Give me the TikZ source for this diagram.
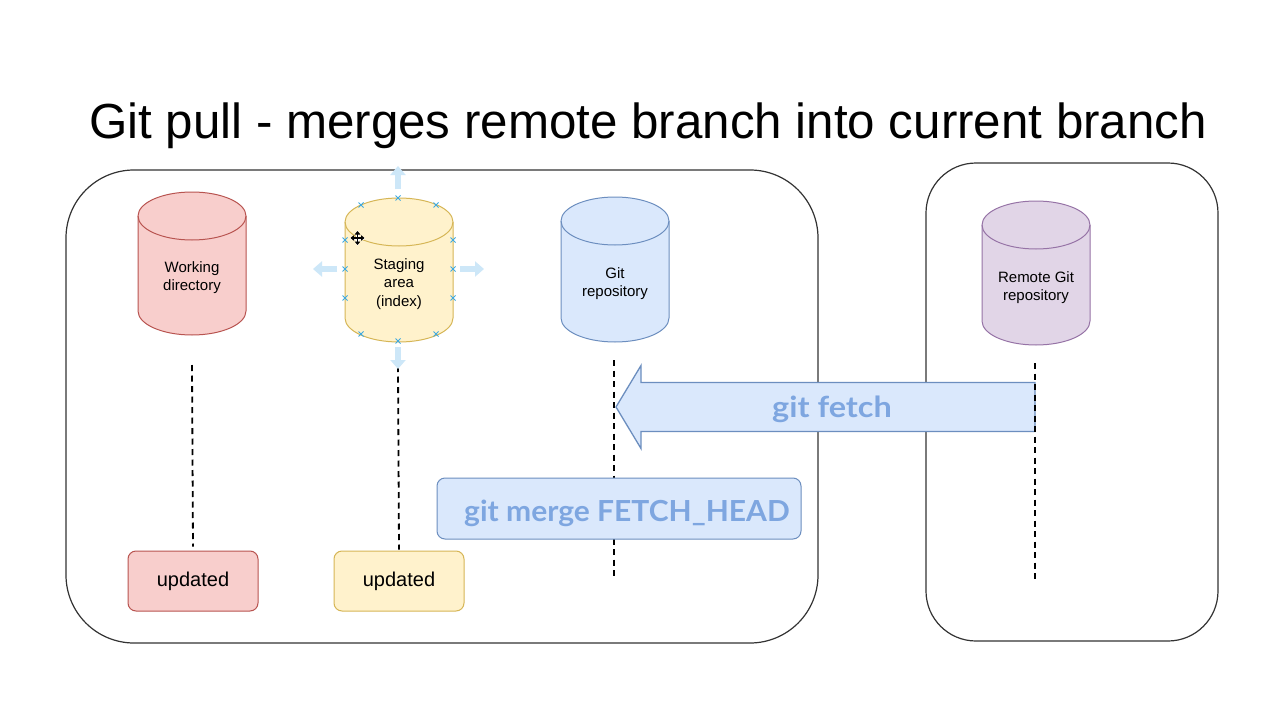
\documentclass[tikz,border=0pt]{standalone}
\usepackage{graphicx}
\usepackage{fontspec}
\setmainfont{Liberation Sans}
\newfontfamily\comicfont{Lato}
\usetikzlibrary{arrows.meta}
\definecolor{redfill}{HTML}{F8CECC}\definecolor{redline}{HTML}{B85450}
\definecolor{yelfill}{HTML}{FFF2CC}\definecolor{yelline}{HTML}{D6B656}
\definecolor{bluefill}{HTML}{DAE8FC}\definecolor{blueline}{HTML}{6C8EBF}
\definecolor{purfill}{HTML}{E1D5E7}\definecolor{purline}{HTML}{9673A6}
\definecolor{cmdtext}{HTML}{7EA6E0}
\definecolor{handlearrow}{HTML}{CDE7F8}
\definecolor{handlex}{HTML}{3FA9E0}
\definecolor{frame}{HTML}{333333}
\newcommand{\cylshape}[5]{%
  \draw[fill=#4, draw=#5, line width=1pt] ({#1-54},{#2+24}) -- ({#1-54},{#3-24})
    arc[start angle=180, end angle=360, x radius=54pt, y radius=24pt] -- ({#1+54},{#2+24})
    arc[start angle=0, end angle=180, x radius=54pt, y radius=24pt] -- cycle;
  \draw[draw=#5, line width=1pt] ({#1-54},{#2+24})
    arc[start angle=180, end angle=360, x radius=54pt, y radius=24pt];
}
\tikzset{
  bigframe/.style={draw=frame, line width=1.2pt, fill=white},
  cyltext/.style={font=\fontsize{15}{18.5}\selectfont, align=center, text=black},
  updbox/.style={rounded corners=8pt, minimum width=130pt, minimum height=60pt, line width=1pt, font=\fontsize{20}{24}\selectfont},
  dashline/.style={line width=1.8pt, dash pattern=on 6pt off 4.5pt, black},
  cmdfont/.style={font=\comicfont\bfseries\fontsize{29}{34}\selectfont, text=cmdtext},
  fetcharrow/.style={fill=bluefill, draw=blueline, line width=1.3pt, line join=miter},
  handlearr/.style={draw=handlearrow, line width=6pt, -{Triangle[width=15pt,length=9pt]}},
  handlemark/.style={draw=handlex, line width=1pt},
}
\begin{document}
\begin{tikzpicture}[x=1pt,y=-1pt]
\useasboundingbox (0,0) rectangle (1283,720);
\fill[white] (0,0) rectangle (1283,720);

% title
\node[anchor=base, font=\fontsize{49.3}{58}\selectfont] (title) at (648,138) {Git pull - merges remote branch into current branch};

% frames
\node[bigframe, rounded corners=68pt, minimum width=752pt, minimum height=473pt] (localframe) at (442,406.5) {};
\node[bigframe, rounded corners=50pt, minimum width=292pt, minimum height=478pt] (remoteframe) at (1072,402) {};

% cylinders
\cylshape{192}{192}{335}{redfill}{redline}
\cylshape{399}{198}{342}{yelfill}{yelline}
\cylshape{615}{197}{342}{bluefill}{blueline}
\cylshape{1036}{201}{345}{purfill}{purline}
\node[cyltext] (wd) at (192,277.5) {Working\\directory};
\node[cyltext] (stage) at (399,284) {Staging\\area\\(index)};
\node[cyltext] (repo) at (615,283.5) {Git\\repository};
\node[cyltext] (remote) at (1036,287.5) {Remote Git\\repository};

% lifeline start points
\coordinate (wdl) at (192,365);
\coordinate (stl) at (398,366);
\coordinate (repol) at (614,360);
\coordinate (repoend) at (614,578);
\coordinate (reml) at (1035,363);
\coordinate (remend) at (1035,580);

% fetch arrow
\coordinate (fetchend) at (616,407);
\coordinate (fetchstart) at (1035,407);
\draw[fetcharrow] (fetchend) -- ++(25,-41.5) -- ++(0,17) -- ++(394,0) -- ++(0,49) -- ++(-394,0) -- ++(0,17) -- cycle;
\node[cmdfont] (fetchlabel) at (832,409) {\scalebox{1.12}[1]{git fetch}};

% updated boxes
\node[updbox, fill=redfill, draw=redline] (wdup) at (193,581) {\raisebox{-1.5pt}{updated}};
\node[updbox, fill=yelfill, draw=yelline] (stup) at (399,581) {\raisebox{-1.5pt}{updated}};

% dashed lifelines
\draw[dashline] (wdl) -- ([yshift=4pt]wdup.north);
\draw[dashline] (stl) -- ([yshift=1pt]stup.north);
\draw[dashline] (repol) -- (repoend);
\draw[dashline] (reml) -- (remend);

% merge box
\node[fill=bluefill, draw=blueline, line width=1pt, rounded corners=8pt, minimum width=364pt, minimum height=61pt] (mergebox) at (619,508.5) {};
\node[cmdfont] (mergelabel) at (627,513) {\scalebox{1.035}[1]{git merge FETCH\_HEAD}};

% selection handles on staging area
\draw[handlearr] (398,189) -- (398,166);
\draw[handlearr] (398,347) -- (398,369);
\draw[handlearr] (337,269) -- (313,269);
\draw[handlearr] (460,269) -- (484,269);
\foreach \p in {(398,198),(361,205),(436,205),(345,240),(345,269),(345,298),(453,240),(453,269),(453,298),(361,334),(436,334),(398,341)}{
  \draw[handlemark] \p ++(-2.5,-2.5) -- ++(5,5) \p ++(-2.5,2.5) -- ++(5,-5);
}
% move cursor
\foreach \a in {0,90,180,270}{
  \draw[white, line width=3pt, line cap=round] (357.5,238) -- ++(\a:6);
}
\foreach \a in {0,90,180,270}{
  \draw[black, line width=1.3pt, -{Triangle[width=5.5pt,length=3.5pt]}] (357.5,238) -- ++(\a:7);
}
\end{tikzpicture}
\end{document}
